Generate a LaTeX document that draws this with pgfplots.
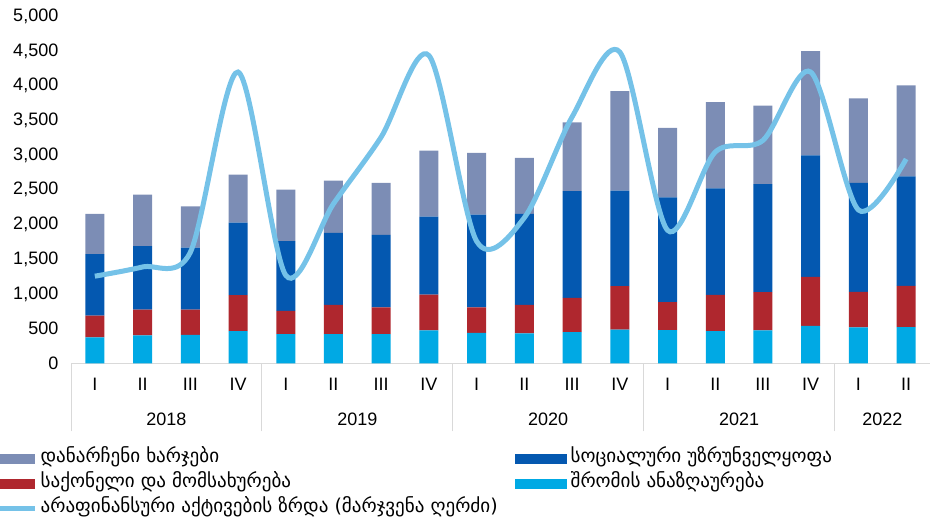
\documentclass[border=0pt]{standalone}
\usepackage{fontspec}
\setmainfont{Liberation Sans}
\newfontfamily\geo{DejaVu Sans}
\usepackage{pgfplots}
\pgfplotsset{compat=1.18}
\usepackage{pgfplotstable}

\definecolor{cgray}{RGB}{124,141,181}
\definecolor{cblue}{RGB}{4,88,176}
\definecolor{cred}{RGB}{175,39,46}
\definecolor{ccyan}{RGB}{0,169,228}
\definecolor{cline}{RGB}{117,194,232}
\definecolor{caxis}{RGB}{217,217,217}

\pgfplotstableread{
x comp goods social other line
0 375 315 885 580 1257
1 403 374 911 742 1390
2 412 365 892 594 1600
3 465 518 1046 691 4197
4 422 335 1003 744 1270
5 422 421 1037 752 2300
6 422 384 1045 748 3262
7 475 518 1122 950 4435
8 441 365 1338 887 1760
9 432 411 1310 806 2100
10 450 494 1538 991 3550
11 489 623 1377 1434 4485
12 479 403 1511 998 1918
13 465 523 1534 1241 3045
14 475 551 1558 1128 3213
15 542 705 1750 1502 4197
16 518 513 1569 1218 2211
17 523 595 1577 1310 2945
}\data

\pgfplotsset{
  mybar/.style={legend image code/.code={\fill[##1] (0pt,-3.75pt) rectangle (39pt,3.75pt);}},
  myline/.style={legend image code/.code={\draw[##1] (0pt,0pt) -- (39pt,0pt);}},
}

\begin{document}
\begin{tikzpicture}
\useasboundingbox (0,0) rectangle (697.5pt,390pt);
\begin{axis}[
  at={(53.25pt,117.4pt)}, anchor=south west,
  scale only axis, width=644.25pt, height=260.4pt,
  ymin=0, ymax=5000, xmin=-0.5, xmax=17.5,
  ybar stacked, bar width=14.25pt,
  axis x line*=bottom, axis y line*=left,
  x axis line style={caxis, line width=0.75pt},
  y axis line style={draw=none},
  ytick={0,500,...,5000},
  scaled y ticks=false,
  /pgf/number format/assume math mode=true,
  /pgf/number format/1000 sep={,},
  yticklabel style={font=\fontsize{13.5}{16}\selectfont, xshift=-6pt},
  xtick={0,...,17},
  xticklabels={I,II,III,IV,I,II,III,IV,I,II,III,IV,I,II,III,IV,I,II},
  xticklabel style={font=\fontsize{13.5}{16}\selectfont, anchor=base, yshift=-20.2pt},
  extra x ticks={1.5,5.5,9.5,13.5,16.5},
  extra x tick labels={2018,2019,2020,2021,2022},
  extra x tick style={xticklabel style={yshift=-26.3pt}},
  minor xtick={-0.5,3.5,7.5,11.5,15.5},
  major tick length=0pt, minor tick length=51pt,
  tick align=outside,
  ytick style={draw=none},
  minor x tick style={caxis, line width=0.75pt},
]
\addplot[fill=ccyan, draw=none] table[x=x,y=comp]{\data};
\addplot[fill=cred, draw=none] table[x=x,y=goods]{\data};
\addplot[fill=cblue, draw=none] table[x=x,y=social]{\data};
\addplot[fill=cgray, draw=none] table[x=x,y=other]{\data};
\end{axis}
\begin{axis}[
  at={(53.25pt,117.4pt)}, anchor=south west,
  scale only axis, width=644.25pt, height=260.4pt,
  ymin=0, ymax=5000, xmin=-0.5, xmax=17.5,
  hide axis, clip=false,
  legend columns=2,
  legend cell align=left,
  legend style={draw=none, fill=none, at={(axis description cs:-0.1048,-0.2442)}, anchor=north west,
    inner sep=0pt, outer sep=0pt, row sep=2.5pt,
    font=\geo\fontsize{14.3}{16}\selectfont,
    nodes={inner sep=2pt, text height=9pt, text depth=3pt},
    /tikz/every even column/.append style={column sep=0pt}},
]
\addplot[cline, line width=3.75pt, smooth, forget plot] table[x=x,y=line]{\data};
\addlegendimage{mybar, fill=cgray, draw=none}
\addlegendentry{\makebox[353.5pt][l]{დანარჩენი ხარჯები}}
\addlegendimage{mybar, fill=cblue, draw=none}
\addlegendentry{\hspace{1pt}სოციალური უზრუნველყოფა}
\addlegendimage{mybar, fill=cred, draw=none}
\addlegendentry{\makebox[353.5pt][l]{საქონელი და მომსახურება}}
\addlegendimage{mybar, fill=ccyan, draw=none}
\addlegendentry{\hspace{1pt}შრომის ანაზღაურება}
\addlegendimage{myline, draw=cline, line width=3.75pt}
\addlegendentry{\makebox[353.5pt][l]{არაფინანსური აქტივების ზრდა (მარჯვენა ღერძი)}}
\end{axis}
\end{tikzpicture}
\end{document}
